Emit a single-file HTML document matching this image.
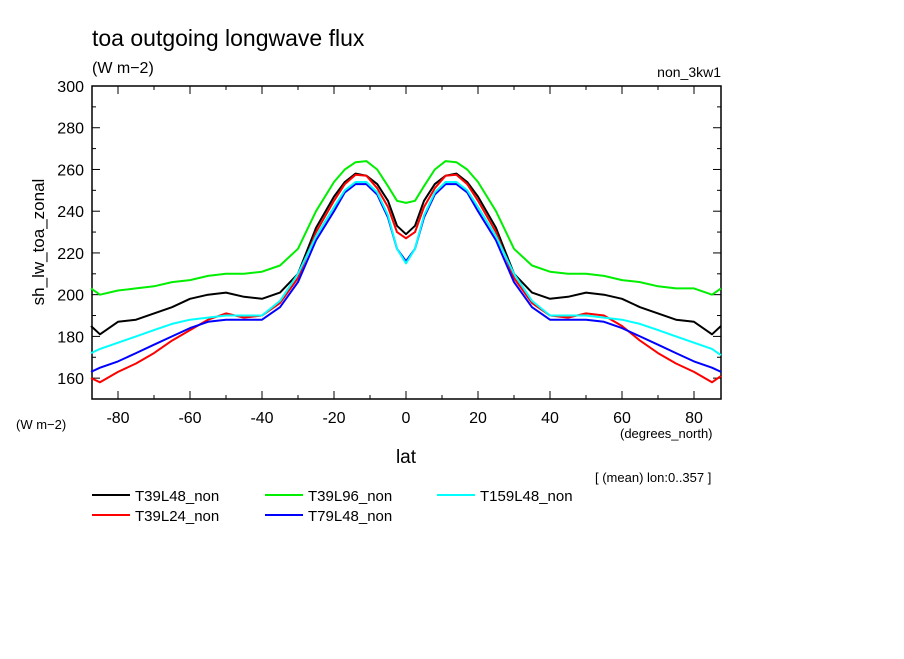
<!DOCTYPE html>
<html><head><meta charset="utf-8"><style>
body{margin:0;background:#fff;width:904px;height:654px;overflow:hidden}
text{font-family:"Liberation Sans",sans-serif;fill:#000}
</style></head><body>
<svg id="chart" width="904" height="654">
<text x="92" y="46" font-size="23">toa outgoing longwave flux</text>
<text x="92" y="73" font-size="16">(W m−2)</text>
<text x="721" y="77" font-size="14" text-anchor="end">non_3kw1</text>
<text x="16" y="429" font-size="13">(W m−2)</text>
<text x="620" y="438" font-size="13">(degrees_north)</text>
<text x="406" y="463" font-size="19" text-anchor="middle">lat</text>
<text transform="translate(44,242) rotate(-90)" font-size="17" text-anchor="middle">sh_lw_toa_zonal</text>
<text x="595" y="482" font-size="13">[ (mean) lon:0..357 ]</text>
<g id="axes"></g><g id="series"></g><g id="legend"></g>
</svg>
<script>
const lats=[-87.5,-85,-80,-75,-70,-65,-60,-55,-50,-45,-40,-35,-30,-25,-20,-17,-14,-11,-8,-5,-2.5,0,2.5,5,8,11,14,17,20,25,30,35,40,45,50,55,60,65,70,75,80,85,87.5];
const black=[185,181,187,188,191,194,198,200,201,199,198,201,210,232,247,254,258,257,253,245,233,229,233,245,253,257,258,254,247,232,210,201,198,199,201,200,198,194,191,188,187,181,185];
const red=[160,158,163,167,172,178,183,188,191,189,190,196,208,230,245,253,257.5,257,251,242,230,227,230,242,251,257,257.5,253,245,230,208,196,190,189,191,190,185,178,172,167,163,158,161];
const green=[203,200,202,203,204,206,207,209,210,210,211,214,222,240,254,260,263.5,264,260,252,245,244,245,252,260,264,263.5,260,254,240,222,214,211,210,210,209,207,206,204,203,203,200,203];
const blue=[163,165,168,172,176,180,184,187,188,188,188,194,206,226,240,249,253,253,248,237,222,216,222,237,248,253,253,249,240,226,206,194,188,188,188,187,184,180,176,172,168,165,163];
const cyan=[172,174,177,180,183,186,188,189,190,190,190,197,210,228,242,250,254,254,249,238,222,215,222,238,249,254,254,250,242,228,210,197,190,190,190,189,188,186,183,180,177,174,171];
const seriesNames=["T39L48_non","T39L24_non","T39L96_non","T79L48_non","T159L48_non"];
const xTicks=[-80,-60,-40,-20,0,20,40,60,80];
const yTicks=[160,180,200,220,240,260,280,300];
const NS="http://www.w3.org/2000/svg";
const L=92,R=721,T=86,B=399;
const X=v=>406+(v)*3.6, Y=v=>B-(v-150)*(B-T)/150;
function mk(t,a,p){const e=document.createElementNS(NS,t);for(const k in a)e.setAttribute(k,a[k]);p.appendChild(e);return e;}
const ax=document.getElementById('axes');
const frame=mk('rect',{x:L,y:T,width:R-L,height:B-T,fill:'none',stroke:'#000','stroke-width':1.5},ax);


for(let v=160;v<=300;v+=10){const y=Y(v),len=v%20==0?8:4;
 mk('line',{x1:L,x2:L+len,y1:y,y2:y,stroke:'#000'},ax);mk('line',{x1:R,x2:R-len,y1:y,y2:y,stroke:'#000'},ax);}
for(let v=-80;v<=80;v+=10){const x=X(v),len=v%20==0?8:4;
 mk('line',{x1:x,x2:x,y1:B,y2:B-len,stroke:'#000'},ax);mk('line',{x1:x,x2:x,y1:T,y2:T+len,stroke:'#000'},ax);}
yTicks.forEach(v=>{const t=mk('text',{x:84,y:Y(v)+6,'font-size':16,'text-anchor':'end'},ax);t.textContent=v;
 
 });
xTicks.forEach(v=>{const t=mk('text',{x:X(v),y:423,'font-size':16,'text-anchor':'middle'},ax);t.textContent=v;
 
 });
const data=[black,red,green,blue,cyan],cols=['#000','#f00','#0e0','#00f','#0ff'];
const sg=document.getElementById('series'),lg=document.getElementById('legend');
const lpos=[[92,495],[92,515],[265,495],[265,515],[437,495]];
data.forEach((d,i)=>{const pts=d.map((v,j)=>X(lats[j]).toFixed(1)+','+Y(v).toFixed(1)).join(' ');
 const p=mk('polyline',{points:pts,fill:'none',stroke:cols[i],'stroke-width':2,'stroke-linejoin':'round'},sg);
 
 
 const [lx,ly]=lpos[i];
 const g=mk('g',{},lg);
 
 
 mk('line',{x1:lx,x2:lx+38,y1:ly,y2:ly,stroke:cols[i],'stroke-width':2},g);
 const t=mk('text',{x:lx+43,y:ly+6,'font-size':15},g);t.textContent=seriesNames[i];});
</script>
</body></html>
